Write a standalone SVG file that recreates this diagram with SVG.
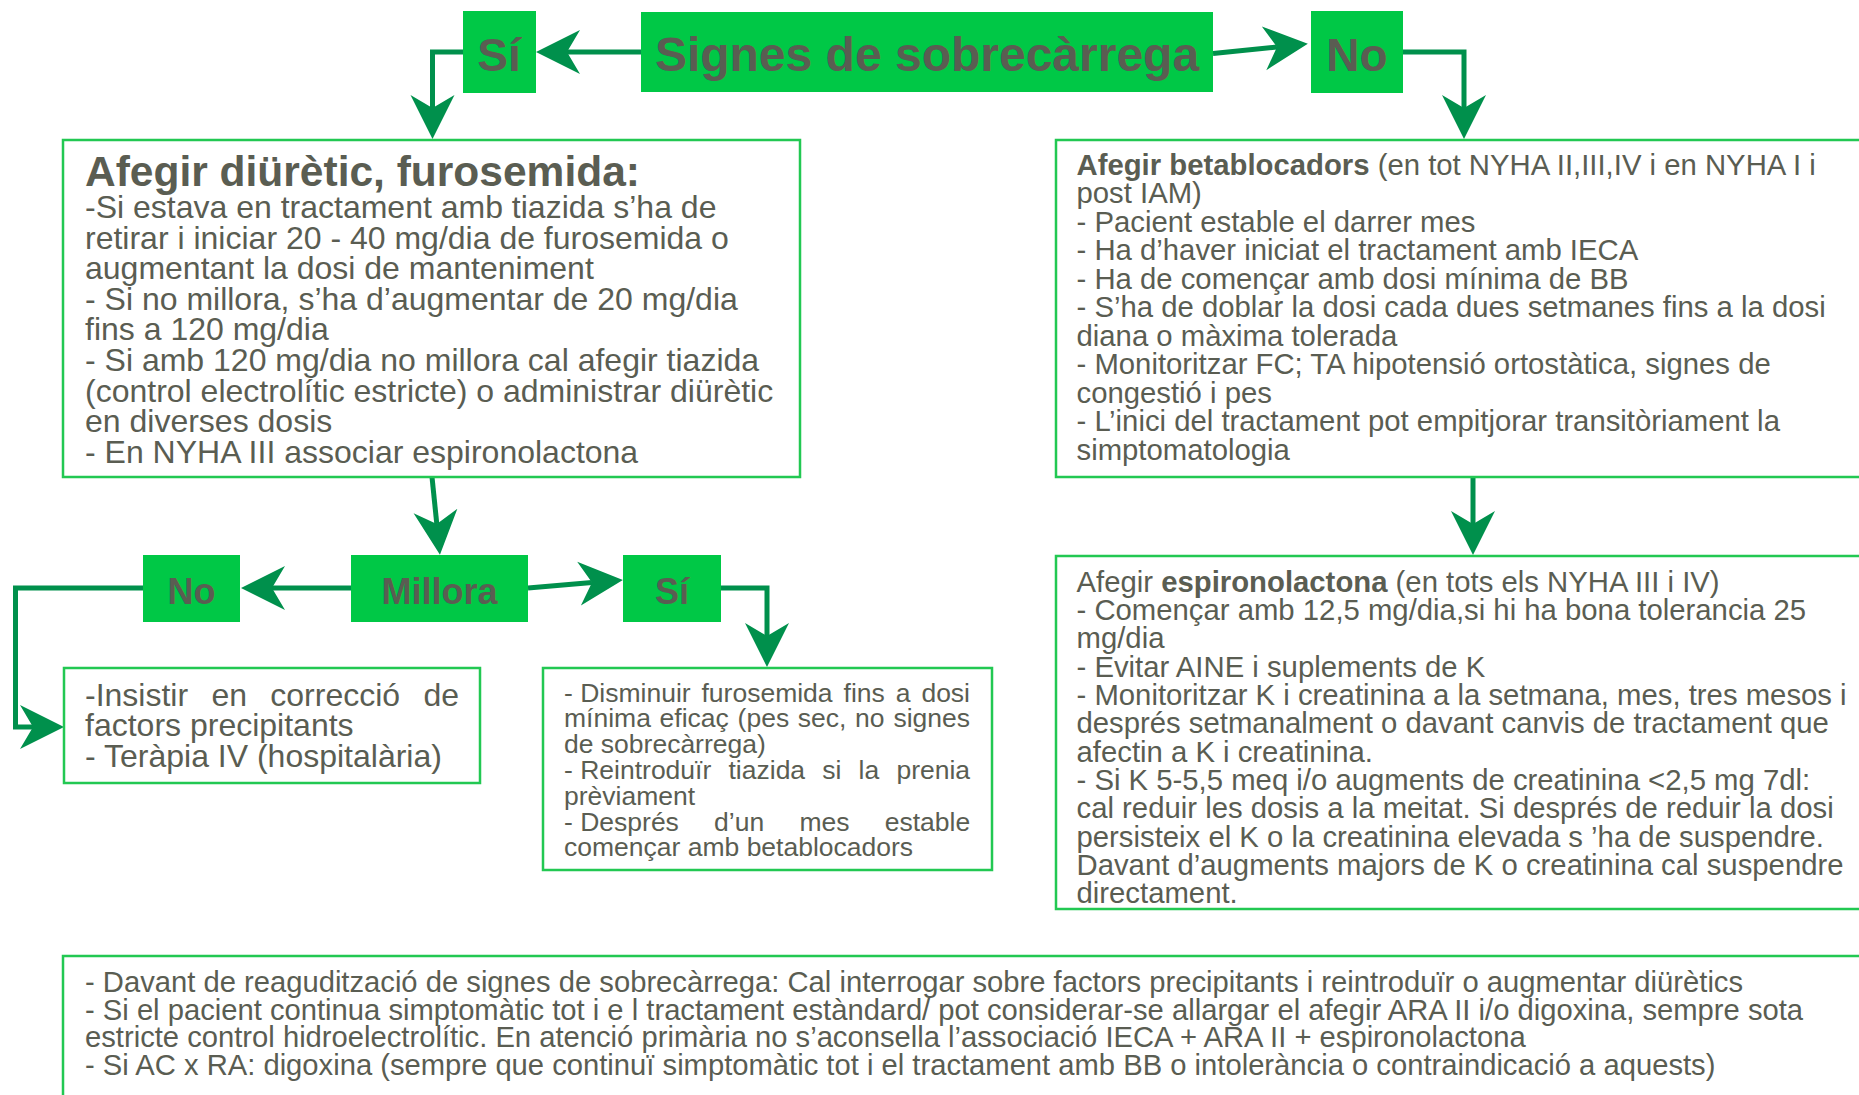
<svg xmlns="http://www.w3.org/2000/svg" width="1859" height="1095" viewBox="0 0 1859 1095">
<style>
.lbl{fill:#00c846}
.box{fill:#ffffff;stroke:#22c852;stroke-width:2.5}
.t{font-family:"Liberation Sans",Arial,sans-serif;fill:#5a5d52}
.hb{font-weight:bold;text-anchor:middle}
.conn{fill:none;stroke:#00904c;stroke-width:5;stroke-linejoin:miter;marker-end:url(#ah)}
</style>
<defs>
<marker id="ah" markerUnits="userSpaceOnUse" markerWidth="50" markerHeight="50" viewBox="-15 -25 50 50" refX="0" refY="0" orient="auto" overflow="visible">
<path d="M31,0 L-13,-22 L0,0 L-13,22 Z" fill="#00904c"/>
</marker>
</defs>
<rect width="1859" height="1095" fill="#ffffff"/>

<g id="connectors">
<path class="conn" d="M641,52 L567,52"/>
<path class="conn" d="M1213,53.5 L1277,47"/>
<path class="conn" d="M463,52 L432.5,52 L432.5,108"/>
<path class="conn" d="M1403,52 L1464,52 L1464,108"/>
<path class="conn" d="M432,477 L436.8,524"/>
<path class="conn" d="M351,588 L272,588"/>
<path class="conn" d="M528,588 L592,582.6"/>
<path class="conn" d="M143,588 L15.5,588 L15.5,727 L33,727"/>
<path class="conn" d="M721,588 L767,588 L767,636"/>
<path class="conn" d="M1473,477 L1473,524"/>
</g>

<g id="signes">
<rect class="lbl" x="641" y="12" width="572" height="80"/>
<text class="t hb" x="927" y="71" font-size="48">Signes de sobrecàrrega</text>
</g>
<g id="si-top">
<rect class="lbl" x="463" y="11" width="73" height="82"/>
<text class="t hb" x="499" y="71" font-size="46">Sí</text>
</g>
<g id="no-top">
<rect class="lbl" x="1311" y="11" width="92" height="82"/>
<text class="t hb" x="1357" y="71" font-size="46">No</text>
</g>

<g id="furosemida">
<rect class="box" x="63" y="140" width="737" height="337"/>
<text class="t" x="85" y="185.5" font-size="42.5" font-weight="bold">Afegir diürètic, furosemida:</text>
<text class="t" font-size="32">
<tspan x="85" y="218">-Si estava en tractament amb tiazida s’ha de</tspan>
<tspan x="85" y="248.6">retirar i iniciar 20 - 40 mg/dia de furosemida o</tspan>
<tspan x="85" y="279.2">augmentant la dosi de manteniment</tspan>
<tspan x="85" y="309.8">- Si no millora, s’ha d’augmentar de 20 mg/dia</tspan>
<tspan x="85" y="340.4">fins a 120 mg/dia</tspan>
<tspan x="85" y="371">- Si amb 120 mg/dia no millora cal afegir tiazida</tspan>
<tspan x="85" y="401.6">(control electrolític estricte) o administrar diürètic</tspan>
<tspan x="85" y="432.2">en diverses dosis</tspan>
<tspan x="85" y="462.8">- En NYHA III associar espironolactona</tspan>
</text>
</g>

<g id="betablocadors">
<rect class="box" x="1056" y="140" width="830" height="337"/>
<text class="t" font-size="29.3">
<tspan x="1076.5" y="174.5"><tspan font-weight="bold">Afegir betablocadors</tspan> (en tot NYHA II,III,IV i en NYHA I i</tspan>
<tspan x="1076.5" y="203.05">post IAM)</tspan>
<tspan x="1076.5" y="231.6">- Pacient estable el darrer mes</tspan>
<tspan x="1076.5" y="260.15">- Ha d’haver iniciat el tractament amb IECA</tspan>
<tspan x="1076.5" y="288.7">- Ha de començar amb dosi mínima de BB</tspan>
<tspan x="1076.5" y="317.25">- S’ha de doblar la dosi cada dues setmanes fins a la dosi</tspan>
<tspan x="1076.5" y="345.8">diana o màxima tolerada</tspan>
<tspan x="1076.5" y="374.35">- Monitoritzar FC; TA hipotensió ortostàtica, signes de</tspan>
<tspan x="1076.5" y="402.9">congestió i pes</tspan>
<tspan x="1076.5" y="431.45">- L’inici del tractament pot empitjorar transitòriament la</tspan>
<tspan x="1076.5" y="460">simptomatologia</tspan>
</text>
</g>

<g id="millora">
<rect class="lbl" x="351" y="555" width="177" height="67"/>
<text class="t hb" x="439.5" y="604" font-size="36">Millora</text>
</g>
<g id="no-mid">
<rect class="lbl" x="143" y="555" width="97" height="67"/>
<text class="t hb" x="191.5" y="604" font-size="36">No</text>
</g>
<g id="si-mid">
<rect class="lbl" x="623" y="555" width="98" height="67"/>
<text class="t hb" x="672" y="604" font-size="36">Sí</text>
</g>

<g id="insistir">
<rect class="box" x="64" y="668" width="416" height="115"/>
<text class="t" font-size="32">
<tspan x="85" y="705.5">-Insistir</tspan><tspan x="211.4" y="705.5">en</tspan><tspan x="270.3" y="705.5">correcció</tspan><tspan x="423.4" y="705.5">de</tspan>
<tspan x="85" y="736">factors precipitants</tspan>
<tspan x="85" y="766.5">- Teràpia IV (hospitalària)</tspan>
</text>
</g>

<g id="disminuir">
<rect class="box" x="543" y="668" width="449" height="202"/>
<text class="t" font-size="26.5">
<tspan x="564" y="701.5">- Disminuir</tspan><tspan x="701.5" y="701.5">furosemida</tspan><tspan x="843.6" y="701.5">fins</tspan><tspan x="895.7" y="701.5">a</tspan><tspan x="921.4" y="701.5">dosi</tspan>
<tspan x="564" y="727.3">mínima</tspan><tspan x="659.6" y="727.3">eficaç</tspan><tspan x="737.6" y="727.3">(pes</tspan><tspan x="797.8" y="727.3">sec,</tspan><tspan x="855.1" y="727.3">no</tspan><tspan x="893.4" y="727.3">signes</tspan>
<tspan x="564" y="753.1">de sobrecàrrega)</tspan>
<tspan x="564" y="778.9">- Reintroduïr</tspan><tspan x="728.5" y="778.9">tiazida</tspan><tspan x="822.3" y="778.9">si</tspan><tspan x="858.6" y="778.9">la</tspan><tspan x="896.4" y="778.9">prenia</tspan>
<tspan x="564" y="804.7">prèviament</tspan>
<tspan x="564" y="830.5">- Després</tspan><tspan x="714.1" y="830.5">d’un</tspan><tspan x="799.4" y="830.5">mes</tspan><tspan x="884.7" y="830.5">estable</tspan>
<tspan x="564" y="856.3">començar amb betablocadors</tspan>
</text>
</g>

<g id="espironolactona">
<rect class="box" x="1056" y="556" width="830" height="353"/>
<text class="t" font-size="29.3">
<tspan x="1076.5" y="591.5">Afegir <tspan font-weight="bold">espironolactona</tspan> (en tots els NYHA III i IV)</tspan>
<tspan x="1076.5" y="619.85">- Començar amb 12,5 mg/dia,si hi ha bona tolerancia 25</tspan>
<tspan x="1076.5" y="648.2">mg/dia</tspan>
<tspan x="1076.5" y="676.55">- Evitar AINE i suplements de K</tspan>
<tspan x="1076.5" y="704.9">- Monitoritzar K i creatinina a la setmana, mes, tres mesos i</tspan>
<tspan x="1076.5" y="733.25">després setmanalment o davant canvis de tractament que</tspan>
<tspan x="1076.5" y="761.6">afectin a K i creatinina.</tspan>
<tspan x="1076.5" y="789.95">- Si K 5-5,5 meq i/o augments de creatinina &lt;2,5 mg 7dl:</tspan>
<tspan x="1076.5" y="818.3">cal reduir les dosis a la meitat. Si després de reduir la dosi</tspan>
<tspan x="1076.5" y="846.65">persisteix el K o la creatinina elevada s ’ha de suspendre.</tspan>
<tspan x="1076.5" y="875">Davant d’augments majors de K o creatinina cal suspendre</tspan>
<tspan x="1076.5" y="903.35">directament.</tspan>
</text>
</g>

<g id="notes">
<rect class="box" x="63" y="956" width="1830" height="160"/>
<text class="t" font-size="29.2">
<tspan x="85" y="992">- Davant de reagudització de signes de sobrecàrrega: Cal interrogar sobre factors precipitants i reintroduïr o augmentar diürètics</tspan>
<tspan x="85" y="1019.7">- Si el pacient continua simptomàtic tot i e l tractament estàndard/ pot considerar-se allargar el afegir ARA II i/o digoxina, sempre sota</tspan>
<tspan x="85" y="1047.4">estricte control hidroelectrolític. En atenció primària no s’aconsella l’associació IECA + ARA II + espironolactona</tspan>
<tspan x="85" y="1075.1">- Si AC x RA: digoxina (sempre que continuï simptomàtic tot i el tractament amb BB o intolerància o contraindicació a aquests)</tspan>
</text>
</g>
</svg>
